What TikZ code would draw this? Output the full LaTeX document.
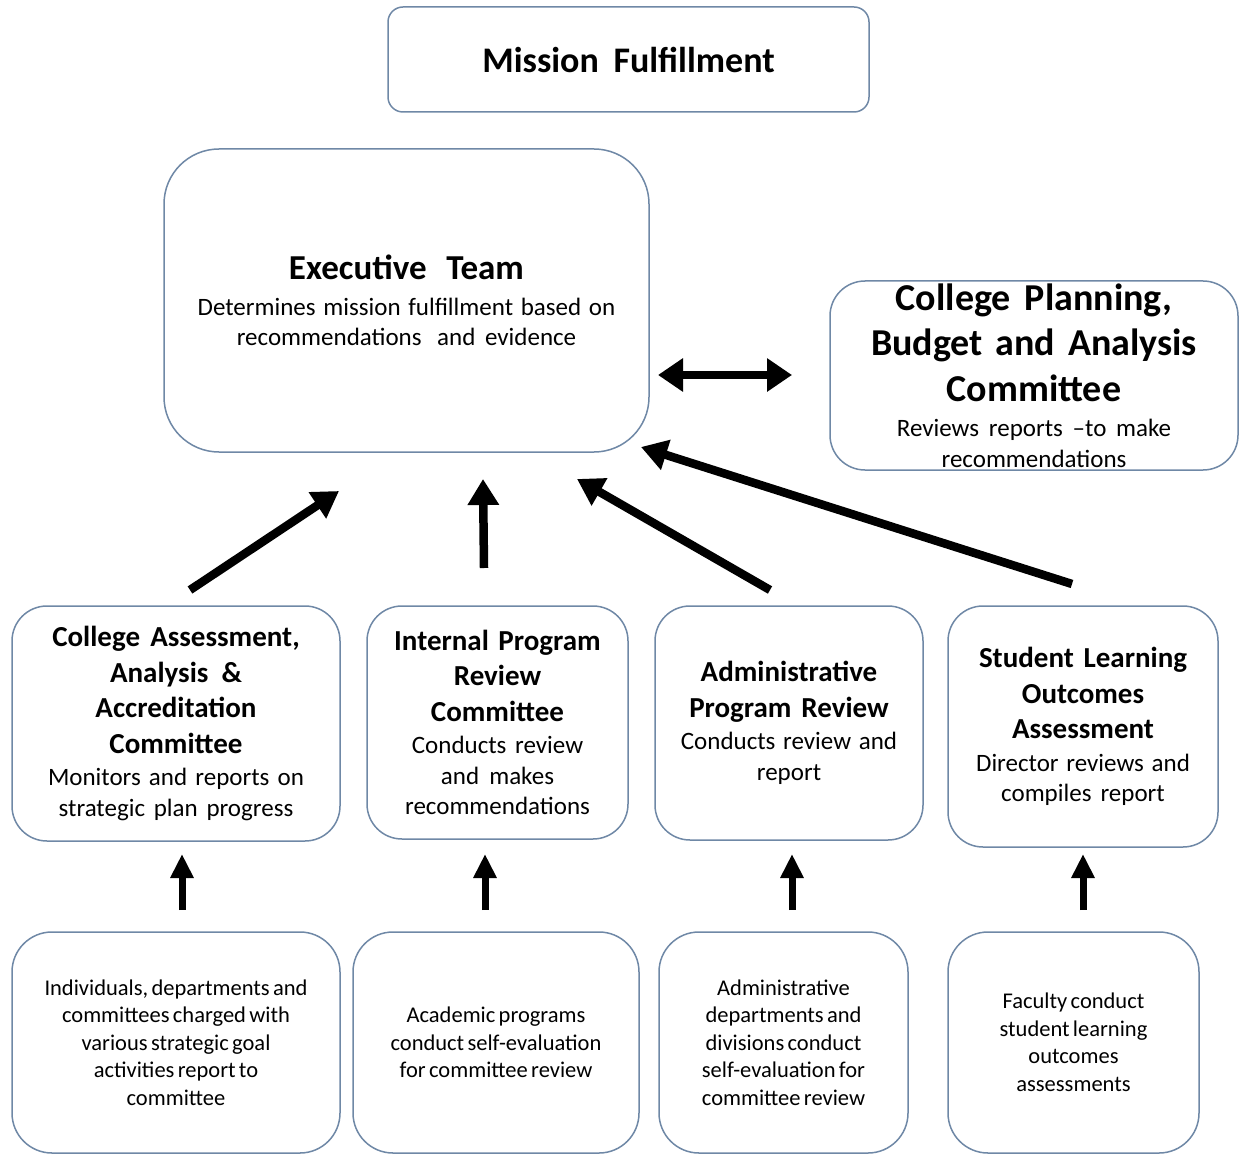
\documentclass[tikz,border=0pt]{standalone}
\usepackage{fontspec}
\setmainfont{Carlito}
\usetikzlibrary{arrows.meta,positioning}
\definecolor{edgeblue}{HTML}{6F88A6}
\tikzstyle{box} = [rectangle, draw=edgeblue, line width=1.5pt, fill=white,
    rounded corners=35pt, align=center, inner sep=0pt]
\tikzstyle{bigup} = [-{Triangle[length=26pt,width=30pt]}, line width=8.5pt]
\tikzstyle{smallup} = [-{Triangle[length=24pt,width=22pt]}, line width=7pt]
\tikzstyle{both} = [{Triangle[length=25pt,width=32pt]}-{Triangle[length=25pt,width=32pt]}, line width=8pt]
\newcommand{\wsp}[1]{\spaceskip=#1pt plus 1pt minus 1pt\relax\ignorespaces}
\newcommand{\hdA}[1]{{\fontsize{38}{45.5}\selectfont\bfseries\wsp{11}#1\par}}
\newcommand{\hdB}[1]{{\fontsize{29}{35.5}\selectfont\bfseries\wsp{8.4}#1\par}}
\newcommand{\txt}[1]{{\fontsize{25}{30.5}\selectfont\wsp{6.6}#1\par}}
\newcommand{\sm}[1]{{\fontsize{22.5}{27.5}\selectfont #1\par}}

\begin{document}
\begin{tikzpicture}[x=1pt,y=-1pt]
  \useasboundingbox (0,0) rectangle (1241,1155);
  % top
  \node[box, rounded corners=15pt, minimum width=481pt, minimum height=105pt, text width=460pt]
    (mission) at (628.5,59.5) {{\fontsize{36}{40}\selectfont\bfseries\wsp{10.4}Mission Fulfillment\par}};
  \node[box, rounded corners=55pt, minimum width=485pt, minimum height=303pt, text width=460pt]
    (exec) at (406.5,300.5) {{\fontsize{35}{36}\selectfont\bfseries\wsp{14}Executive Team\par}
      \vspace{5pt}\txt{Determines mission fulfillment based on\\ recommendations\hspace{6pt} and evidence}};
  \node[box, minimum width=408pt, minimum height=189pt, text width=400pt]
    (cpba) at (1034,375.5) {\hdA{College Planning,\\ Budget and Analysis\\ Committee}
      \vspace{5pt}\txt{Reviews reports --to make\\ recommendations}};

  % committees
  \node[box, minimum width=328pt, minimum height=235pt, text width=320pt]
    (caa) at (176,723.5) {\hdB{College Assessment,\\ Analysis \&\\ Accreditation\\ Committee}
      \vspace{2pt}\txt{Monitors and reports on\\ strategic plan progress}};
  \node[box, minimum width=261pt, minimum height=233pt, text width=255pt]
    (ipr) at (497.5,722.5) {\hdB{Internal Program\\ Review\\ Committee}
      \vspace{2pt}\txt{Conducts review\\ and makes\\ recommendations}};
  \node[box, minimum width=268pt, minimum height=234pt, text width=260pt]
    (apr) at (789,723) {\hdB{Administrative\\ Program Review}
      \vspace{2pt}\txt{Conducts review and\\ report}};
  \node[box, minimum width=270pt, minimum height=241pt, text width=260pt]
    (slo) at (1083,726.5) {\hdB{Student Learning\\ Outcomes\\ Assessment}
      \vspace{2pt}\txt{Director reviews and\\ compiles report}};

  % units reporting up
  \node[box, rounded corners=40pt, minimum width=328pt, minimum height=221pt, text width=320pt]
    (indiv) at (176,1042.5) {\sm{Individuals, departments and\\ committees charged with\\ various strategic goal\\ activities report to\\ committee}};
  \node[box, rounded corners=40pt, minimum width=286pt, minimum height=221pt, text width=280pt]
    (acad) at (496,1042.5) {\sm{Academic programs\\ conduct self-evaluation\\ for committee review}};
  \node[box, rounded corners=40pt, minimum width=249pt, minimum height=221pt, text width=245pt]
    (admin) at (783.5,1042.5) {\sm{Administrative\\ departments and\\ divisions conduct\\ self-evaluation for\\ committee review}};
  \node[box, rounded corners=40pt, minimum width=251pt, minimum height=221pt, text width=245pt]
    (fac) at (1073.5,1042.5) {\sm{Faculty conduct\\ student learning\\ outcomes\\ assessments}};

  % arrow ends
  \coordinate (bothL) at (658,375);
  \coordinate (bothR) at (792,375);
  \coordinate (caaT) at (190,590);  \coordinate (caaH) at (339,491);
  \coordinate (iprT) at (484,568);  \coordinate (iprH) at (483,479);
  \coordinate (aprT) at (770,590);  \coordinate (aprH) at (577,479);
  \coordinate (sloT) at (1072,584); \coordinate (sloH) at (641,447);
  \foreach \n/\x in {indiv/182,acad/485,admin/792,fac/1083}{
    \coordinate (\n T) at (\x,910);
    \coordinate (\n H) at (\x,854);
  }

  \draw[both] (bothL) -- (bothR);
  \draw[bigup] (caaT) -- (caaH);
  \draw[bigup] (iprT) -- (iprH);
  \draw[bigup] (aprT) -- (aprH);
  \draw[bigup] (sloT) -- (sloH);
  \foreach \n in {indiv,acad,admin,fac}
    \draw[smallup] (\n T) -- (\n H);
\end{tikzpicture}
\end{document}
